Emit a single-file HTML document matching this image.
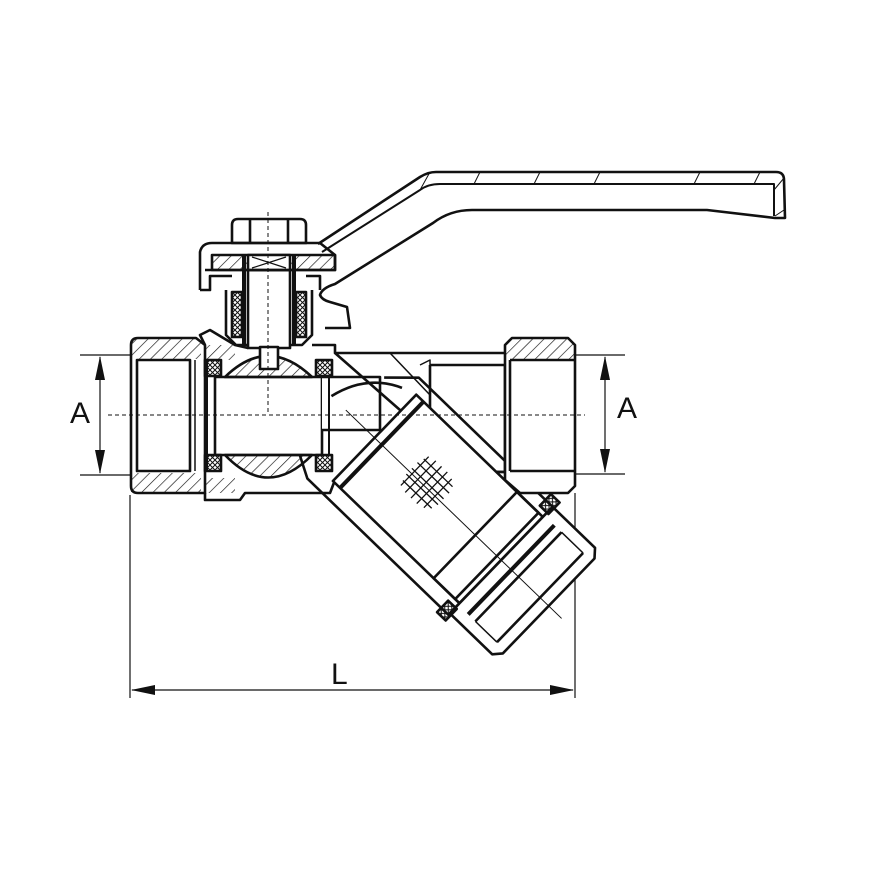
<!DOCTYPE html>
<html><head><meta charset="utf-8"><style>html,body{margin:0;padding:0;background:#fff}svg{display:block}</style></head>
<body>
<svg width="880" height="880" viewBox="0 0 880 880" xmlns="http://www.w3.org/2000/svg" fill="none" stroke="#111" stroke-linejoin="round">
<defs>
<pattern id="h" width="8" height="8" patternUnits="userSpaceOnUse" patternTransform="rotate(45)"><line x1="0" y1="0" x2="0" y2="8" stroke="#111" stroke-width="1.3"/></pattern>
<pattern id="x" width="5" height="5" patternUnits="userSpaceOnUse"><path d="M0 0L5 5M5 0L0 5" stroke="#111" stroke-width="1"/></pattern>
</defs>
<!-- dimension lines -->
<g stroke-width="1.2">
<line x1="80" y1="355" x2="135" y2="355"/><line x1="80" y1="475" x2="135" y2="475"/>
<line x1="100" y1="357" x2="100" y2="473"/>
<line x1="575" y1="355" x2="625" y2="355"/><line x1="575" y1="474" x2="625" y2="474"/>
<line x1="605" y1="357" x2="605" y2="472"/>
<line x1="130" y1="495" x2="130" y2="698"/><line x1="575" y1="493" x2="575" y2="698"/>
<line x1="132" y1="690" x2="573" y2="690"/>
</g>
<g fill="#111" stroke="none">
<path d="M100 356L95 380L105 380Z"/><path d="M100 474L95 450L105 450Z"/>
<path d="M605 356L600 380L610 380Z"/><path d="M605 473L600 449L610 449Z"/>
<path d="M131 690L155 685L155 695Z"/><path d="M574 690L550 685L550 695Z"/>
</g>
<g font-family="Liberation Sans, sans-serif" font-size="30" fill="#111" stroke="none">
<text x="70" y="423">A</text><text x="617" y="418">A</text><text x="331" y="684">L</text>
</g>

<!-- handle -->
<g stroke-width="2.6">
<path d="M318 244L420 177Q428 172 436 172L776 172Q784 172 784 180L785 218L775 218L707 210L472 210Q450 210 433 223L335 284Q322 288 320 295Q322 300 330 302L347 307L350 328L325 328"/>
<path d="M322 252L420 190Q428 184 440 184L774 184L774 216" stroke-width="2"/>
<path d="M430 172L420 190M480 172L474 184M540 172L534 184M600 172L594 184M700 172L694 184M760 172L754 184M784 178L774 190M784 210L775 216" stroke-width="1"/>
</g>
<!-- nut / cap -->
<g stroke-width="2.6">
<path d="M232 243L232 225Q232 219 238 219L300 219Q306 219 306 225L306 243Z"/>
<line x1="250" y1="219" x2="250" y2="243"/><line x1="288" y1="219" x2="288" y2="243"/>
<path d="M200 290L200 252Q202 243 212 243L320 243L335 255L335 270L205 270"/>
<rect x="212" y="255" width="123" height="15" fill="url(#h)"/>
<rect x="248" y="255" width="42" height="15" fill="#fff"/>
<path d="M252 257L286 268M286 257L252 268" stroke-width="1.2"/>
<path d="M200 290L210 290L210 276L232 276M306 276L320 276L320 290"/>
<rect x="248" y="270" width="42" height="78"/>
<line x1="244" y1="255" x2="244" y2="345" stroke-width="4"/><line x1="294" y1="255" x2="294" y2="345" stroke-width="4"/>
<rect x="232" y="292" width="10" height="45" fill="url(#x)"/><rect x="296" y="292" width="10" height="45" fill="url(#x)"/>
<path d="M226 290L226 335L236 345L248 345M312 290L312 335L302 345L290 345"/>
</g>
<!-- strainer leg outer -->
<g transform="translate(353 417) rotate(44)" stroke-width="2.6">
<path d="M-5 -50L20 -74L206 -74L206 76L10 76L-20 60" fill="#fff"/>
</g>
<!-- left fitting -->
<g stroke-width="2.6">
<path d="M131 345Q131 338 138 338L196 338L205 345L205 493L138 493Q131 493 131 486Z" fill="#fff"/>
<rect x="131" y="339" width="70" height="20" fill="url(#h)" stroke="none"/>
<rect x="131" y="473" width="70" height="19" fill="url(#h)" stroke="none"/>
<path d="M137 360L190 360L190 471L137 471Z"/>
<line x1="195" y1="360" x2="195" y2="471" stroke-width="1.5"/>
<path d="M205 345L200 335L210 330L235 345L248 348M205 493L205 500L240 500L245 493L330 493L335 480"/>
<rect x="205" y="345" width="30" height="15" fill="url(#h)" stroke="none"/>
<rect x="205" y="478" width="30" height="15" fill="url(#h)" stroke="none"/>
</g>
<!-- ball & seats -->
<g stroke-width="2.6">
<path d="M215 377L215 455L322 455L322 377Z" fill="#fff"/>
<path d="M322 377L380 377L380 430L322 430" fill="#fff"/>
<path d="M225 377Q268 335 312 377Z" fill="url(#h)"/>
<path d="M225 455Q268 500 312 455Z" fill="url(#h)"/>
<rect x="260" y="347" width="18" height="22" fill="#fff"/>
<rect x="205" y="360" width="16" height="16" fill="url(#x)"/><rect x="205" y="455" width="16" height="16" fill="url(#x)"/>
<rect x="316" y="360" width="16" height="16" fill="url(#x)"/><rect x="316" y="455" width="16" height="16" fill="url(#x)"/>
<line x1="207" y1="360" x2="207" y2="471" stroke-width="2"/>
<line x1="329" y1="376" x2="329" y2="455" stroke-width="2"/>
<path d="M312 345L335 345L335 353L505 353M335 353L400 410L418 415"/>
<path d="M420 365L430 360L430 415L420 410" stroke-width="1.5"/>
<line x1="390" y1="353" x2="430" y2="395" stroke-width="1.5"/>
</g>
<!-- right fitting -->
<g stroke-width="2.6">
<path d="M430 365L505 365L505 472L430 470L430 365"/>
<path d="M505 345L512 338L568 338L575 345L575 486L568 493L520 493L505 480L505 345Z" fill="#fff"/>
<rect x="506" y="339" width="68" height="20" fill="url(#h)" stroke="none"/>
<line x1="510" y1="360" x2="575" y2="360"/><line x1="510" y1="471" x2="575" y2="471"/>
<line x1="510" y1="360" x2="510" y2="471"/>
<line x1="430" y1="472" x2="505" y2="472"/>
</g>
<!-- strainer leg (local axis) -->
<g transform="translate(353 417) rotate(44)" stroke-width="2.6">
<path d="M-30 0Q-20 -40 15 -55"/>
<rect x="30" y="-60" width="170" height="120" fill="#fff"/>
<line x1="40" y1="-60" x2="40" y2="60" stroke-width="4"/>
<rect x="170" y="-60" width="36" height="120"/>
<path d="M206 -74L265 -74L272 -66L272 66L265 74L206 74Z" fill="#fff"/>
<line x1="220" y1="-62" x2="220" y2="62" stroke-width="4"/>
<line x1="230" y1="-62" x2="260" y2="-62" stroke-width="1.5"/><line x1="230" y1="62" x2="260" y2="62" stroke-width="1.5"/>
<line x1="230" y1="-62" x2="230" y2="62"/>
<line x1="260" y1="-62" x2="260" y2="62"/>
<rect x="196" y="-82" width="12" height="16" fill="url(#x)"/>
<rect x="196" y="66" width="12" height="16" fill="url(#x)"/>
<line x1="-10" y1="0" x2="290" y2="0" stroke-width="1"/>
<g stroke-width="1.3" transform="translate(100 -4)">
<path d="M-20 -15L20 -15M-22 -8L22 -8M-22 0L22 0M-22 8L22 8M-20 15L20 15M-18 -20L-18 20M-10 -22L-10 22M-2 -22L-2 22M6 -22L6 22M14 -20L14 20"/>
</g>
</g>
<!-- centerlines on top -->
<g stroke-width="1" stroke-dasharray="4 3">
<line x1="108" y1="415" x2="585" y2="415"/>
<line x1="268" y1="212" x2="268" y2="415"/>
</g>
</svg>
</body></html>
